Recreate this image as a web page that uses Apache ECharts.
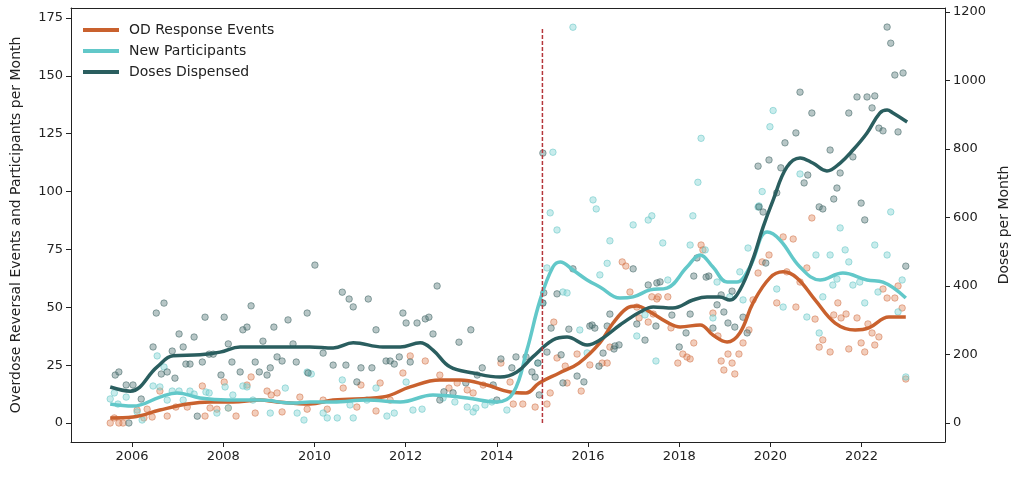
<!DOCTYPE html>
<html><head><meta charset="utf-8">
<script src="https://cdn.jsdelivr.net/npm/echarts@6/dist/echarts.min.js"></script>
<style>html,body{margin:0;padding:0;background:#fff}#c{width:1024px;height:478px}</style>
</head><body><div id="c"></div>
<script>
// ---- data (x = decimal year) ----
const xTicks = [2006,2008,2010,2012,2014,2016,2018,2020,2022];
const leftTicks = [0,25,50,75,100,125,150,175];
const rightTicks = [0,200,400,600,800,1000,1200];
const seriesNames = ['OD Response Events','New Participants','Doses Dispensed'];
const interventionYear = 2015.0;
const interventionTop = 170.7;

// smoothed trend lines
const odLine = [[2005.52,2.2],[2006.02,2.6],[2006.61,5.6],[2007.21,8.2],[2007.71,9.1],[2008.21,9.1],[2008.81,9.9],[2009.18,9.1],[2009.90,8.2],[2010.41,9.9],[2011.50,11.2],[2012.10,15.6],[2012.75,18.6],[2013.19,18.6],[2013.78,16.4],[2014.29,13.4],[2014.64,13.0],[2014.93,17.3],[2015.37,21.6],[2015.80,25.9],[2016.26,34.6],[2016.55,43.2],[2016.86,49.7],[2017.07,50.6],[2017.36,48.0],[2017.73,43.6],[2018.02,41.5],[2018.46,42.4],[2018.74,38.0],[2019.05,35.0],[2019.33,38.9],[2019.62,51.9],[2019.99,62.7],[2020.28,65.3],[2020.58,62.7],[2020.98,53.2],[2021.42,43.2],[2021.86,40.2],[2022.16,41.1],[2022.60,45.8],[2022.97,45.8]];
const npLine = [[2005.52,8.2],[2006.02,7.3],[2006.61,11.2],[2006.99,13.0],[2007.49,10.8],[2008.09,9.9],[2008.81,9.9],[2009.53,8.6],[2009.90,9.1],[2010.41,9.1],[2011.15,9.9],[2011.88,9.1],[2012.60,12.1],[2013.35,10.8],[2014.00,9.1],[2014.36,13.0],[2014.66,31.5],[2014.95,53.2],[2015.23,67.4],[2015.39,69.6],[2015.67,66.1],[2015.98,61.8],[2016.26,58.8],[2016.70,54.0],[2016.99,54.5],[2017.36,57.5],[2017.73,58.3],[2018.17,67.4],[2018.46,72.6],[2018.74,67.4],[2019.05,60.9],[2019.27,60.9],[2019.55,67.4],[2019.93,82.5],[2020.21,79.1],[2020.65,67.4],[2021.09,61.8],[2021.59,64.8],[2022.12,61.8],[2022.47,60.9],[2022.97,54.0]];
const dosesLine = [[2005.52,105],[2005.96,93],[2006.55,164],[2006.90,196],[2007.49,199],[2007.93,207],[2008.37,222],[2008.81,222],[2009.46,222],[2009.90,222],[2010.41,219],[2010.85,234],[2011.50,222],[2011.88,222],[2012.32,234],[2012.60,213],[2012.97,164],[2013.48,146],[2014.07,134],[2014.44,149],[2014.79,193],[2015.23,242],[2015.54,251],[2015.98,228],[2016.26,242],[2016.70,286],[2017.14,324],[2017.43,339],[2017.86,336],[2018.30,359],[2018.61,368],[2018.89,368],[2019.11,359],[2019.33,388],[2019.61,476],[2019.84,572],[2020.06,651],[2020.36,747],[2020.65,774],[2020.93,759],[2021.24,736],[2021.53,759],[2021.81,797],[2022.12,847],[2022.40,905],[2022.56,914],[2022.69,905],[2023.00,879]];

const odPts = [[2005.52,0],[2005.61,2.2],[2005.71,0],[2005.80,0],[2006.11,5.6],[2006.26,2.2],[2006.33,6.0],[2006.44,2.6],[2006.61,13.8],[2006.77,3.0],[2006.96,6.9],[2007.21,6.9],[2007.54,16.0],[2007.60,3.0],[2007.71,6.5],[2007.86,6.0],[2008.02,17.7],[2008.11,6.5],[2008.28,3.0],[2008.52,16.4],[2008.61,19.9],[2008.70,4.3],[2008.96,13.8],[2009.05,12.1],[2009.18,13.0],[2009.29,4.8],[2009.68,11.2],[2009.84,6.0],[2010.19,9.9],[2010.28,6.0],[2010.63,15.1],[2010.93,6.9],[2011.02,16.4],[2011.35,5.2],[2011.44,17.3],[2011.66,9.9],[2011.94,21.6],[2012.10,29.0],[2012.43,26.8],[2012.75,20.7],[2012.95,15.1],[2013.13,17.3],[2013.35,14.3],[2013.48,13.0],[2013.70,16.4],[2014.09,25.9],[2014.29,17.7],[2014.36,8.2],[2014.57,8.2],[2014.84,6.9],[2015.10,8.2],[2015.17,13.0],[2015.25,43.6],[2015.32,28.1],[2015.50,24.6],[2015.54,17.3],[2015.76,29.8],[2015.85,13.8],[2016.04,25.1],[2016.31,25.9],[2016.42,25.9],[2016.48,32.8],[2016.75,69.6],[2016.83,67.8],[2016.92,56.6],[2017.07,50.1],[2017.12,45.4],[2017.32,43.6],[2017.43,47.1],[2017.51,53.6],[2017.40,54.5],[2017.54,54.5],[2017.75,54.5],[2017.82,41.1],[2017.97,25.9],[2018.08,29.8],[2018.17,28.5],[2018.24,27.7],[2018.32,34.6],[2018.48,76.9],[2018.52,74.8],[2018.74,47.5],[2018.85,37.6],[2018.92,26.8],[2018.98,22.9],[2019.07,29.8],[2019.16,25.9],[2019.22,21.2],[2019.31,29.8],[2019.40,34.6],[2019.53,40.2],[2019.62,53.2],[2019.73,64.8],[2019.82,69.6],[2019.97,72.6],[2020.14,51.9],[2020.28,80.4],[2020.36,65.3],[2020.50,79.5],[2020.56,50.1],[2020.65,60.9],[2020.80,67.0],[2020.91,88.6],[2020.98,44.9],[2021.07,32.8],[2021.15,35.9],[2021.31,30.7],[2021.39,46.7],[2021.48,51.9],[2021.55,45.4],[2021.66,47.1],[2021.72,32.0],[2021.90,45.4],[2021.99,34.6],[2022.07,30.7],[2022.14,42.8],[2022.23,38.9],[2022.29,33.7],[2022.38,37.2],[2022.47,57.9],[2022.56,54.0],[2022.73,54.0],[2022.80,59.2],[2022.89,49.7],[2022.97,19.0]];
const npPts = [[2005.52,10.4],[2005.61,13.0],[2005.69,8.2],[2005.87,11.2],[2006.11,4.8],[2006.22,1.3],[2006.46,16.0],[2006.55,29.0],[2006.61,15.6],[2006.70,24.2],[2006.77,9.9],[2006.88,13.8],[2007.03,13.8],[2007.12,9.9],[2007.27,13.8],[2007.36,12.5],[2007.62,13.4],[2007.69,13.0],[2007.86,4.3],[2008.04,15.6],[2008.11,6.5],[2008.21,12.1],[2008.43,16.0],[2008.52,15.6],[2008.65,9.9],[2009.03,4.3],[2009.36,15.1],[2009.62,4.3],[2009.77,1.3],[2009.84,22.0],[2009.93,21.2],[2010.19,4.3],[2010.28,2.2],[2010.50,2.2],[2010.61,18.6],[2010.78,7.8],[2010.85,2.2],[2011.15,9.9],[2011.35,15.1],[2011.59,3.0],[2011.75,4.3],[2012.01,17.7],[2012.16,5.6],[2012.36,6.0],[2012.82,10.8],[2013.08,9.1],[2013.35,6.9],[2013.48,4.8],[2013.54,6.5],[2013.74,7.8],[2013.89,9.1],[2014.22,5.6],[2014.90,25.9],[2015.01,51.9],[2015.10,67.0],[2015.17,90.8],[2015.23,117],[2015.32,83.4],[2015.45,56.6],[2015.54,56.2],[2015.67,171],[2015.82,40.2],[2015.98,30.3],[2016.11,96.4],[2016.18,92.5],[2016.26,64.0],[2016.42,69.0],[2016.48,78.7],[2016.99,85.6],[2017.07,37.6],[2017.25,46.7],[2017.32,87.7],[2017.40,89.5],[2017.49,26.8],[2017.64,77.8],[2017.75,61.8],[2018.24,76.9],[2018.30,89.5],[2018.41,104],[2018.48,123],[2018.57,74.8],[2018.74,45.4],[2018.83,60.9],[2019.11,54.5],[2019.33,65.3],[2019.40,53.2],[2019.51,75.6],[2019.73,93.3],[2019.75,93.8],[2019.82,100],[2019.99,128],[2020.06,135],[2020.14,57.9],[2020.28,50.1],[2020.65,107.6],[2020.80,45.8],[2021.00,72.6],[2021.07,38.9],[2021.15,54.5],[2021.31,72.6],[2021.37,59.6],[2021.46,62.2],[2021.53,84.3],[2021.64,74.8],[2021.72,69.6],[2021.81,59.6],[2021.96,60.9],[2022.07,51.9],[2022.29,76.9],[2022.36,56.6],[2022.56,72.6],[2022.64,91.2],[2022.80,48.0],[2022.89,61.8],[2022.97,19.9]];
const dosesPts = [[2005.63,140],[2005.71,149],[2005.87,111],[2005.93,0],[2006.02,111],[2006.20,70],[2006.46,222],[2006.53,321],[2006.64,143],[2006.70,350],[2006.77,149],[2006.88,210],[2006.94,131],[2007.03,260],[2007.12,222],[2007.18,172],[2007.27,172],[2007.36,251],[2007.43,20],[2007.54,178],[2007.60,309],[2007.69,201],[2007.78,201],[2007.95,140],[2008.02,309],[2008.11,231],[2008.19,178],[2008.37,149],[2008.43,272],[2008.52,280],[2008.61,342],[2008.70,178],[2008.79,149],[2008.87,239],[2008.96,140],[2009.03,161],[2009.11,280],[2009.18,193],[2009.29,181],[2009.42,301],[2009.53,231],[2009.60,178],[2009.84,321],[2009.86,146],[2010.01,461],[2010.19,204],[2010.41,169],[2010.61,382],[2010.69,169],[2010.76,362],[2010.85,339],[2010.93,120],[2011.02,161],[2011.18,362],[2011.26,161],[2011.35,272],[2011.57,181],[2011.66,181],[2011.75,172],[2011.86,193],[2011.94,321],[2012.01,292],[2012.10,178],[2012.25,292],[2012.43,304],[2012.51,309],[2012.60,260],[2012.69,400],[2012.75,67],[2012.84,91],[2013.04,88],[2013.17,236],[2013.32,117],[2013.43,272],[2013.57,140],[2013.68,161],[2013.92,111],[2014.00,67],[2014.09,187],[2014.33,161],[2014.42,193],[2014.64,193],[2014.77,149],[2014.84,134],[2014.90,175],[2014.93,82],[2015.01,350],[2015.03,380],[2015.01,788],[2015.10,207],[2015.19,277],[2015.32,377],[2015.41,199],[2015.45,117],[2015.58,274],[2015.67,450],[2015.76,137],[2015.91,120],[2016.04,283],[2016.09,286],[2016.15,277],[2016.24,166],[2016.33,204],[2016.42,283],[2016.48,318],[2016.57,216],[2016.59,225],[2016.68,228],[2016.99,450],[2017.07,289],[2017.25,242],[2017.32,403],[2017.49,283],[2017.51,409],[2017.58,412],[2017.84,315],[2018.00,222],[2018.15,263],[2018.24,318],[2018.32,429],[2018.39,482],[2018.59,426],[2018.65,429],[2018.74,277],[2018.83,345],[2018.92,374],[2018.98,324],[2019.07,292],[2019.16,385],[2019.22,280],[2019.40,309],[2019.49,263],[2019.73,750],[2019.75,631],[2019.84,616],[2019.90,467],[2019.97,768],[2020.14,672],[2020.23,745],[2020.32,818],[2020.56,847],[2020.65,966],[2020.74,701],[2020.82,724],[2020.91,905],[2021.07,631],[2021.15,625],[2021.31,797],[2021.39,654],[2021.46,686],[2021.53,730],[2021.72,905],[2021.81,777],[2021.90,952],[2021.99,642],[2022.07,593],[2022.12,952],[2022.23,920],[2022.29,955],[2022.38,861],[2022.47,853],[2022.56,1156],[2022.64,1109],[2022.73,1016],[2022.80,850],[2022.91,1022],[2022.97,458]];

// ---- styles ----
const C_OD = '#c9612e', C_NP = '#62c8c9', C_DOSE = '#2a5e5f';
const FONT = 'DejaVu Sans';
const chart = echarts.init(document.getElementById('c'), null, {renderer:'canvas'});
const plain = v => String(Math.round(v));

function dots(name, data, fill, edge, yi){
  return {name:name, type:'scatter', data:data, yAxisIndex:yi, symbol:'circle', symbolSize:6.5,
    itemStyle:{color:fill, borderColor:edge, borderWidth:1}, z:1, silent:true};
}
function trend(name, data, color, yi){
  return {name:name, type:'line', data:data, yAxisIndex:yi, smooth:0.4, showSymbol:false, symbol:'none',
    lineStyle:{color:color, width:3.5}, itemStyle:{color:color}, z:3, silent:true};
}

chart.setOption({
  animation:false,
  backgroundColor:'#fff',
  textStyle:{fontFamily:FONT},
  grid:{left:71, right:79, top:8, bottom:36, containLabel:false},
  legend:{
    data:seriesNames, orient:'vertical', left:78, top:18, itemGap:7,
    icon:'rect', itemWidth:36, itemHeight:4,
    textStyle:{fontFamily:FONT, fontSize:14, color:'#222', padding:[0,0,0,5]}
  },
  xAxis:[{
    type:'value', min:2004.66, max:2023.83, position:'bottom',
    axisLine:{show:true, onZero:false, lineStyle:{color:'#222', width:1}},
    axisTick:{show:true, customValues:xTicks, length:5, lineStyle:{color:'#222'}},
    axisLabel:{customValues:xTicks, formatter:plain, color:'#222', fontSize:13, fontFamily:FONT, margin:8},
    splitLine:{show:false}
  },{
    type:'value', min:2004.66, max:2023.83, position:'top',
    axisLine:{show:true, onZero:false, lineStyle:{color:'#222', width:1}},
    axisTick:{show:false}, axisLabel:{show:false}, splitLine:{show:false}
  }],
  yAxis:[{
    type:'value', min:-8.2, max:179.3, position:'left',
    name:'Overdose Reversal Events and Participants per Month', nameLocation:'middle', nameGap:48,
    nameTextStyle:{fontFamily:FONT, fontSize:14, color:'#222'},
    axisLine:{show:true, onZero:false, lineStyle:{color:'#222', width:1}},
    axisTick:{show:true, customValues:leftTicks, length:5, lineStyle:{color:'#222'}},
    axisLabel:{customValues:leftTicks, formatter:plain, color:'#222', fontSize:13, fontFamily:FONT, margin:8},
    splitLine:{show:false}
  },{
    type:'value', min:-55.5, max:1211.7, position:'right',
    name:'Doses per Month', nameLocation:'middle', nameGap:52,
    nameTextStyle:{fontFamily:FONT, fontSize:14, color:'#222'},
    axisLine:{show:true, onZero:false, lineStyle:{color:'#222', width:1}},
    axisTick:{show:true, customValues:rightTicks, length:5, lineStyle:{color:'#222'}},
    axisLabel:{customValues:rightTicks, formatter:plain, color:'#222', fontSize:13, fontFamily:FONT, margin:8},
    splitLine:{show:false}
  }],
  series:[
    dots('OD observed', odPts, 'rgba(222,130,85,0.5)', 'rgba(205,105,60,0.6)', 0),
    dots('NP observed', npPts, 'rgba(130,212,212,0.55)', 'rgba(98,195,196,0.65)', 0),
    dots('Doses observed', dosesPts, 'rgba(90,125,125,0.55)', 'rgba(60,95,95,0.65)', 1),
    trend(seriesNames[0], odLine, C_OD, 0),
    trend(seriesNames[1], npLine, C_NP, 0),
    trend(seriesNames[2], dosesLine, C_DOSE, 1),
    {name:'intervention', type:'line', data:[[interventionYear,0],[interventionYear,interventionTop]],
     yAxisIndex:0, showSymbol:false, symbol:'none', silent:true, z:5,
     lineStyle:{color:'#b5363b', width:1.5, type:[4,2]}}
  ]
});
</script></body></html>
